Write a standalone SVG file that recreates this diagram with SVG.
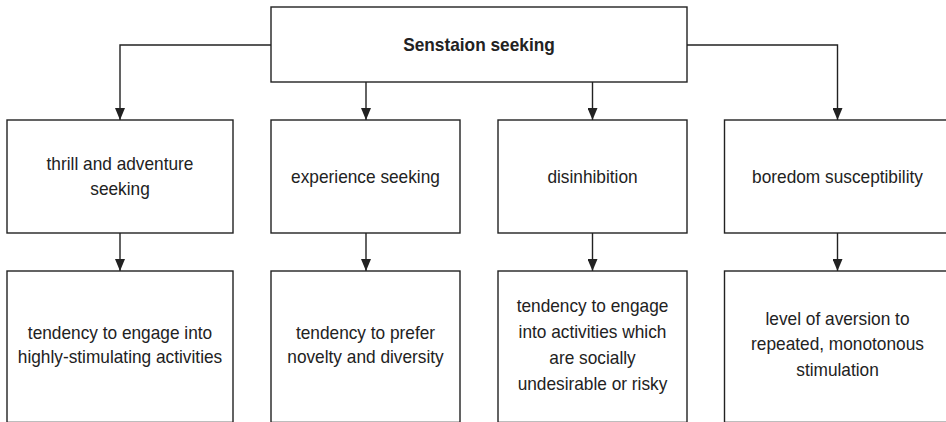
<svg xmlns="http://www.w3.org/2000/svg" width="946" height="422" viewBox="0 0 946 422">
<defs>
<style>
.box{fill:#fff;stroke:#222;stroke-width:1.4}
.t{font-family:"Liberation Sans",Arial,sans-serif;font-size:19.2px;fill:#222;text-anchor:middle}
.b{font-weight:bold}
.c{fill:none;stroke:#222;stroke-width:1.4}
</style>
<marker id="arr" markerWidth="12" markerHeight="10" refX="12" refY="5" orient="auto" markerUnits="userSpaceOnUse">
<path d="M0,0 L12,5 L0,10 Z" fill="#222"/>
</marker>
</defs>
<rect width="946" height="422" fill="#fff"/>
<g id="connectors">
<path class="c" d="M271,45 H120 V120" marker-end="url(#arr)"/>
<path class="c" d="M366,82 V120" marker-end="url(#arr)"/>
<path class="c" d="M592.5,82 V120" marker-end="url(#arr)"/>
<path class="c" d="M687,45 H837.5 V120" marker-end="url(#arr)"/>
<path class="c" d="M120,233 V271" marker-end="url(#arr)"/>
<path class="c" d="M366,233 V271" marker-end="url(#arr)"/>
<path class="c" d="M592.5,233 V271" marker-end="url(#arr)"/>
<path class="c" d="M837.5,233 V271" marker-end="url(#arr)"/>
</g>
<g id="root">
<rect class="box" x="271" y="7" width="416" height="75"/>
<text class="t b" transform="matrix(0.9 0 0 1 479 51)">Senstaion seeking</text>
</g>
<g id="thrill">
<rect class="box" x="7" y="120" width="226" height="113"/>
<text class="t" transform="matrix(0.9 0 0 1 120 170)">thrill and adventure</text>
<text class="t" transform="matrix(0.9 0 0 1 120 195)">seeking</text>
</g>
<g id="experience">
<rect class="box" x="271" y="120" width="189" height="113"/>
<text class="t" transform="matrix(0.9 0 0 1 365.5 183)">experience seeking</text>
</g>
<g id="disinhibition">
<rect class="box" x="498" y="120" width="189" height="113"/>
<text class="t" transform="matrix(0.9 0 0 1 592.5 183)">disinhibition</text>
</g>
<g id="boredom">
<rect class="box" x="724.5" y="120" width="226" height="113"/>
<text class="t" transform="matrix(0.9 0 0 1 837.5 183)">boredom susceptibility</text>
</g>
<g id="thrill-desc">
<rect class="box" x="7" y="271" width="226" height="151.4"/>
<text class="t" transform="matrix(0.9 0 0 1 120 339)">tendency to engage into</text>
<text class="t" transform="matrix(0.9 0 0 1 120 363)">highly-stimulating activities</text>
</g>
<g id="experience-desc">
<rect class="box" x="271" y="271" width="189" height="151.4"/>
<text class="t" transform="matrix(0.9 0 0 1 365.5 339)">tendency to prefer</text>
<text class="t" transform="matrix(0.9 0 0 1 365.5 363)">novelty and diversity</text>
</g>
<g id="disinhibition-desc">
<rect class="box" x="498" y="271" width="189" height="151.4"/>
<text class="t" transform="matrix(0.9 0 0 1 592.5 312)">tendency to engage</text>
<text class="t" transform="matrix(0.9 0 0 1 592.5 338)">into activities which</text>
<text class="t" transform="matrix(0.9 0 0 1 592.5 364)">are socially</text>
<text class="t" transform="matrix(0.9 0 0 1 592.5 390)">undesirable or risky</text>
</g>
<g id="boredom-desc">
<rect class="box" x="724.5" y="271" width="226" height="151.4"/>
<text class="t" transform="matrix(0.9 0 0 1 837.5 325)">level of aversion to</text>
<text class="t" transform="matrix(0.9 0 0 1 837.5 350)">repeated, monotonous</text>
<text class="t" transform="matrix(0.9 0 0 1 837.5 376)">stimulation</text>
</g>
</svg>
